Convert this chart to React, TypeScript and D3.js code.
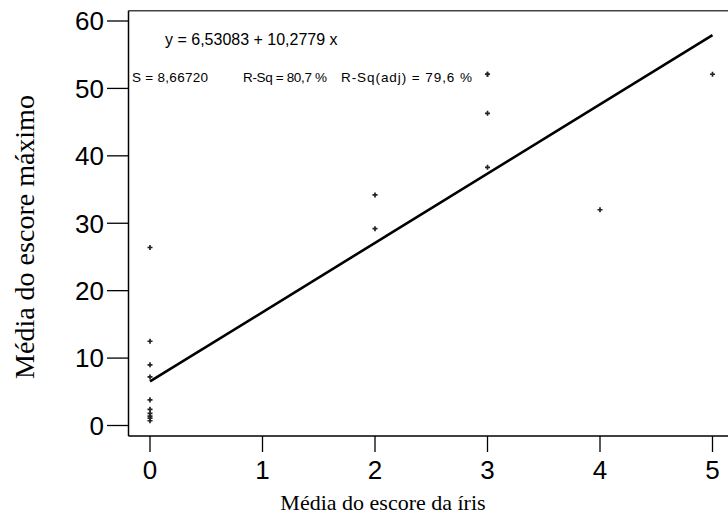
import React from "react";
import * as d3 from "d3";

// Mean iris score (x) vs mean maximum score (y)
const irisScore: number[] = [0, 0, 0, 0, 0, 0, 0, 0, 0, 0, 2, 2, 3, 3, 3, 3, 4, 5];
const maxScore: number[] = [26.4, 12.5, 9.0, 7.2, 3.8, 2.4, 1.8, 1.4, 1.1, 0.7, 34.2, 29.2, 52.1, 46.3, 38.3, 52.1, 32.0, 52.1];

const xTicks: number[] = [0, 1, 2, 3, 4, 5];
const yTicks: number[] = [0, 10, 20, 30, 40, 50, 60];

// Fitted regression
const intercept = 6.53083;
const slope = 10.2779;
const fitLabel = "y = 6,53083 + 10,2779 x";
const statLabels: string[] = ["S = 8,66720", "R-Sq = 80,7 %", "R-Sq(adj) = 79,6 %"];

const W = 728;
const H = 519;

export default function App() {
  const frame = { left: 128.5, top: 10.7, bottom: 436 };
  const x = d3.scaleLinear().domain([0, 5]).range([150, 712.5]);
  const y = d3.scaleLinear().domain([0, 60]).range([425.5, 21]);

  const sans = "Arial, 'Liberation Sans', sans-serif";
  const serif = "'Times New Roman', 'Liberation Serif', serif";

  const marker = d3.symbol().type(d3.symbolCross).size(14)();

  const fitLine = d3
    .line<number>()
    .x((d) => x(d))
    .y((d) => y(intercept + slope * d))([0, 5]);

  const statX = [132, 243, 341];
  const statW = [76, 84, 131];

  return (
    <svg
      width={W}
      height={H}
      style={{ position: "absolute", left: 0, top: 0, background: "#fff" }}
    >
      {/* frame: top edge and axes */}
      <line x1={frame.left} x2={W} y1={frame.top} y2={frame.top} stroke="#444" strokeWidth={1.5} />
      <line x1={frame.left} x2={frame.left} y1={frame.top} y2={frame.bottom} stroke="#000" strokeWidth={1.5} />
      <line x1={frame.left} x2={W} y1={frame.bottom} y2={frame.bottom} stroke="#000" strokeWidth={1.5} />

      {/* y axis ticks */}
      {yTicks.map((t) => (
        <g key={"y" + t}>
          <line x1={107} x2={frame.left} y1={y(t)} y2={y(t)} stroke="#000" strokeWidth={1.3} />
          <text x={104} y={y(t)} dy="0.36em" textAnchor="end" fontFamily={sans} fontSize={26} fill="#000">
            {t}
          </text>
        </g>
      ))}

      {/* x axis ticks */}
      {xTicks.map((t) => (
        <g key={"x" + t}>
          <line x1={x(t)} x2={x(t)} y1={frame.bottom} y2={452} stroke="#000" strokeWidth={1.3} />
          <text x={x(t)} y={479} textAnchor="middle" fontFamily={sans} fontSize={26} fill="#000">
            {t}
          </text>
        </g>
      ))}

      {/* regression line */}
      <path d={fitLine ?? ""} fill="none" stroke="#000" strokeWidth={2.6} />

      {/* observations */}
      {irisScore.map((v, i) => (
        <path key={"p" + i} d={marker ?? ""} transform={`translate(${x(v)},${y(maxScore[i])})`} fill="#222" />
      ))}

      {/* fit statistics */}
      <text x={165} y={45} fontFamily={sans} fontSize={16} fill="#000">
        {fitLabel}
      </text>
      {statLabels.map((s, i) => (
        <text
          key={s}
          x={statX[i]}
          y={82}
          fontFamily={sans}
          fontSize={13.5}
          textLength={statW[i]}
          lengthAdjust="spacing"
          fill="#000"
        >
          {s}
        </text>
      ))}

      {/* axis titles */}
      <text x={383} y={510} textAnchor="middle" fontFamily={serif} fontSize={22} fill="#000">
        Média do escore da íris
      </text>
      <text
        transform={`translate(34,237) rotate(-90)`}
        textAnchor="middle"
        fontFamily={serif}
        fontSize={28}
        fill="#000"
      >
        Média do escore máximo
      </text>
    </svg>
  );
}
